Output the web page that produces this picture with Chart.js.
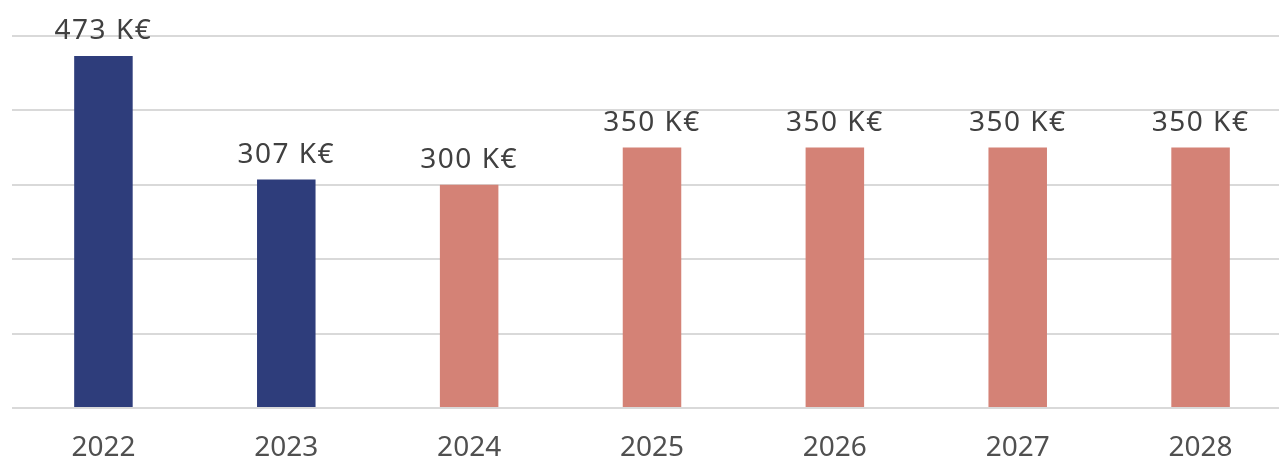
<!DOCTYPE html>
<html>
<head>
<meta charset="utf-8">
<script src="https://cdn.jsdelivr.net/npm/chart.js@4"></script>
<style>
  html, body { margin: 0; padding: 0; overflow: hidden; background: #fff; }
  #wrap { width: 1292px; height: 457px; }
</style>
</head>
<body>
<div id="wrap"><canvas id="chart"></canvas></div>
<script>
// chart data
const years = ['2022', '2023', '2024', '2025', '2026', '2027', '2028'];
const amounts = [473, 307, 300, 350, 350, 350, 350];
const barColors = ['#2E3D7B', '#2E3D7B', '#D48276', '#D48276', '#D48276', '#D48276', '#D48276'];
const yTicks = [0, 100, 200, 300, 400, 500];

const FONT = "'Noto Sans', sans-serif";

// draws the "xxx K€" labels above each bar
const valueLabels = {
  id: 'valueLabels',
  afterDatasetsDraw(chart) {
    const ctx = chart.ctx;
    const meta = chart.getDatasetMeta(0);
    ctx.save();
    ctx.font = '400 28px ' + FONT;
    ctx.letterSpacing = '1.5px';
    ctx.fillStyle = '#404040';
    ctx.textAlign = 'center';
    ctx.textBaseline = 'alphabetic';
    meta.data.forEach((bar, i) => {
      ctx.fillText(amounts[i] + ' K€', bar.x, bar.y - 17);
    });
    ctx.restore();
  }
};

new Chart(document.getElementById('chart'), {
  type: 'bar',
  data: {
    labels: years,
    datasets: [{
      data: amounts,
      backgroundColor: barColors,
      barPercentage: 0.32,
      categoryPercentage: 1
    }]
  },
  options: {
    responsive: true,
    maintainAspectRatio: false,
    animation: false,
    layout: { padding: { top: 36, left: 12, right: 0, bottom: 0 } },
    plugins: { legend: { display: false }, tooltip: { enabled: false } },
    scales: {
      x: {
        afterFit(axis) { axis.height = 49; },
        grid: { display: false },
        border: { display: false },
        ticks: { color: '#505050', font: { family: FONT, size: 28, weight: '400' }, padding: 15 }
      },
      y: {
        min: 0,
        max: 500,
        afterBuildTicks(axis) { axis.ticks = yTicks.map(v => ({ value: v })); },
        grid: { color: '#D9D9D9', lineWidth: 2, drawTicks: false },
        border: { display: false },
        ticks: { display: false }
      }
    }
  },
  plugins: [valueLabels]
});
</script>
</body>
</html>
